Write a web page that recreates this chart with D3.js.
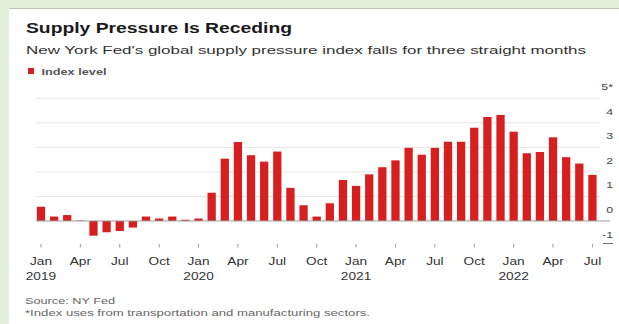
<!DOCTYPE html>
<html>
<head>
<meta charset="utf-8">
<script src="https://cdn.jsdelivr.net/npm/d3@7"></script>
<style>
  html, body { margin: 0; padding: 0; background: #e2efd9; }
  svg { display: block; font-family: "Liberation Sans", Arial, Helvetica, sans-serif; }
</style>
</head>
<body>
<svg id="chart" width="619" height="324"></svg>
<script>
// Monthly categories, Jan 2019 – Jul 2022
const months = [
  "2019-01","2019-02","2019-03","2019-04","2019-05","2019-06","2019-07","2019-08","2019-09","2019-10","2019-11","2019-12",
  "2020-01","2020-02","2020-03","2020-04","2020-05","2020-06","2020-07","2020-08","2020-09","2020-10","2020-11","2020-12",
  "2021-01","2021-02","2021-03","2021-04","2021-05","2021-06","2021-07","2021-08","2021-09","2021-10","2021-11","2021-12",
  "2022-01","2022-02","2022-03","2022-04","2022-05","2022-06","2022-07"
];

// Global supply chain pressure index level
const indexLevel = [
  0.58, 0.18, 0.24, 0.02, -0.60, -0.46, -0.41, -0.27, 0.18, 0.10, 0.18, 0.05,
  0.10, 1.15, 2.54, 3.22, 2.68, 2.42, 2.83, 1.35, 0.64, 0.18, 0.72, 1.67,
  1.43, 1.90, 2.19, 2.47, 2.98, 2.70, 2.98, 3.23, 3.23, 3.80, 4.24, 4.32,
  3.64, 2.76, 2.81, 3.41, 2.60, 2.34, 1.88
];

// Axis ticks
const tickMonths = ["2019-01","2019-04","2019-07","2019-10","2020-01","2020-04","2020-07","2020-10",
                    "2021-01","2021-04","2021-07","2021-10","2022-01","2022-04","2022-07"];
const tickMonthNames = ["Jan","Apr","Jul","Oct","Jan","Apr","Jul","Oct","Jan","Apr","Jul","Oct","Jan","Apr","Jul"];
const tickYears = ["2019","","","","2020","","","","2021","","","","2022","",""];
const yTicks = [-1, 0, 1, 2, 3, 4, 5];
const yTickLabels = ["-1", "0", "1", "2", "3", "4", "5*"];

const W = 619, H = 324;
const SX = 1.37;            // horizontal stretch of the wide house typeface
const barColor = "#d71f20";

const svg = d3.select("#chart");

// Card
svg.append("rect").attr("x", 0).attr("y", 0).attr("width", W).attr("height", H).attr("fill", "#e2efd9");
svg.append("rect").attr("x", 9).attr("y", 9).attr("width", W - 9).attr("height", H - 9).attr("fill", "#ffffff");
svg.append("line").attr("x1", 9).attr("x2", W).attr("y1", 8.5).attr("y2", 8.5)
  .attr("stroke", "#bcc6b6").attr("stroke-width", 1);

// Scales
const x = d3.scaleBand().domain(months).range([34.4, 599.0]).paddingInner(0.37).paddingOuter(0.185);
const y = d3.scaleLinear().domain([-1, 5]).range([245.5, 98.3]);

// Headline block
svg.append("text").attr("x", 26).attr("y", 33)
  .attr("font-size", 14).attr("font-weight", "bold").attr("fill", "#1a1a1a")
  .attr("textLength", 266).attr("lengthAdjust", "spacingAndGlyphs")
  .text("Supply Pressure Is Receding");
svg.append("text").attr("x", 26).attr("y", 54)
  .attr("font-size", 11).attr("fill", "#333")
  .attr("textLength", 560).attr("lengthAdjust", "spacingAndGlyphs")
  .text("New York Fed's global supply pressure index falls for three straight months");

// Legend
svg.append("rect").attr("x", 28).attr("y", 68).attr("width", 6).attr("height", 6).attr("fill", barColor);
svg.append("text").attr("x", 41.5).attr("y", 75)
  .attr("font-size", 9.5).attr("font-weight", "bold").attr("fill", "#555")
  .attr("textLength", 65).attr("lengthAdjust", "spacingAndGlyphs")
  .text("Index level");

// Gridlines
const grid = svg.append("g");
grid.selectAll("line").data(yTicks.filter(v => v > 0)).join("line")
  .attr("x1", 36).attr("x2", 600)
  .attr("y1", d => y(d)).attr("y2", d => y(d))
  .attr("stroke", "#e6e6e6").attr("stroke-width", 1);

// Bars
svg.append("g").selectAll("rect").data(months.map((m, i) => ({ m, v: indexLevel[i] }))).join("rect")
  .attr("x", d => x(d.m))
  .attr("width", x.bandwidth())
  .attr("y", d => y(Math.max(0, d.v)))
  .attr("height", d => Math.abs(y(d.v) - y(0)))
  .attr("fill", barColor);

// Zero baseline and the short -1 mark on the right
svg.append("line").attr("x1", 36).attr("x2", 610).attr("y1", y(0)).attr("y2", y(0))
  .attr("stroke", "#9c9c9c").attr("stroke-width", 1);
svg.append("line").attr("x1", 603).attr("x2", 613).attr("y1", y(-1) - 2).attr("y2", y(-1) - 2)
  .attr("stroke", "#777").attr("stroke-width", 1);

// Right-hand value labels, sitting above their gridlines
svg.append("g").selectAll("text").data(yTicks).join("text")
  .attr("transform", d => `translate(613,${y(d) - 8}) scale(${SX},1)`)
  .attr("text-anchor", "end")
  .attr("font-size", 9).attr("fill", "#444")
  .text((d, i) => yTickLabels[i]);

// Month axis
const axisY = y(-1) - 1.5;
const gx = svg.append("g").attr("transform", `translate(0,${axisY})`)
  .call(d3.axisBottom(x).tickValues(tickMonths).tickSize(3.5).tickSizeOuter(0).tickFormat(""));
gx.select(".domain").remove();
gx.selectAll(".tick line").attr("stroke", "#9a9a9a");
gx.selectAll(".tick").each(function (d, i) {
  const t = d3.select(this);
  t.append("text")
    .attr("transform", `translate(0,${264.5 - axisY}) scale(${SX},1)`)
    .attr("text-anchor", "middle").attr("font-size", 10).attr("fill", "#333")
    .text(tickMonthNames[i]);
  if (tickYears[i]) {
    t.append("text")
      .attr("transform", `translate(0,${279.5 - axisY}) scale(${SX},1)`)
      .attr("text-anchor", "middle").attr("font-size", 10).attr("fill", "#333")
      .text(tickYears[i]);
  }
});

// Footnotes
svg.append("text").attr("x", 25).attr("y", 303.5)
  .attr("font-size", 9).attr("fill", "#666")
  .attr("textLength", 90).attr("lengthAdjust", "spacingAndGlyphs")
  .text("Source: NY Fed");
svg.append("text").attr("x", 25).attr("y", 316)
  .attr("font-size", 9).attr("fill", "#666")
  .attr("textLength", 345).attr("lengthAdjust", "spacingAndGlyphs")
  .text("*Index uses from transportation and manufacturing sectors.");
</script>
</body>
</html>
